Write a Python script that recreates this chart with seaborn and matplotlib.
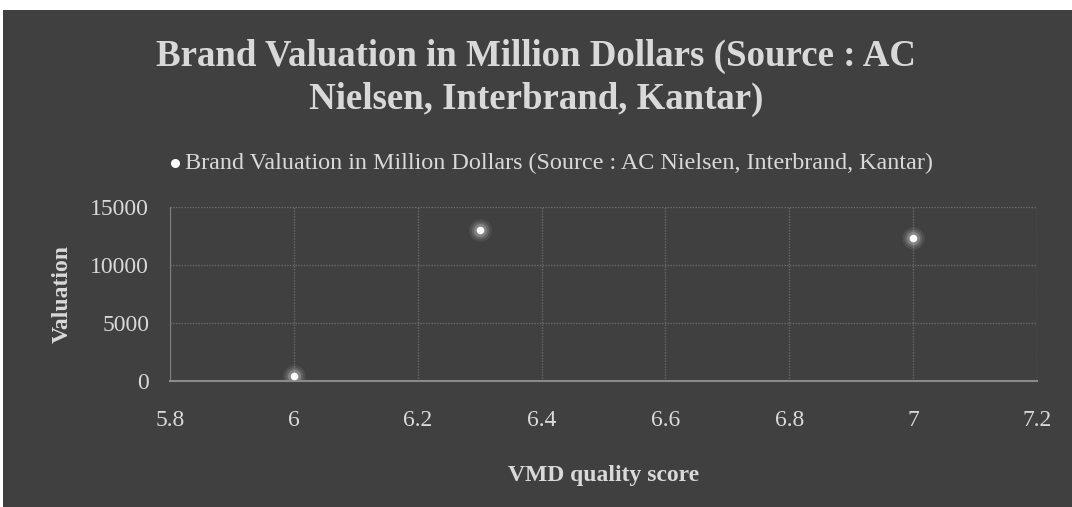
import matplotlib
matplotlib.use("Agg")
import matplotlib.pyplot as plt
import seaborn as sns
import pandas as pd

# Data
vmdScore = [6.0, 6.3, 7.0]
valuation = [400, 13000, 12300]

seriesName = "Brand Valuation in Million Dollars (Source : AC Nielsen, Interbrand, Kantar)"
titleText = "Brand Valuation in Million Dollars (Source : AC\nNielsen, Interbrand, Kantar)"

df = pd.DataFrame({"VMD quality score": vmdScore, "Valuation": valuation})

bg = "#404040"
textCol = "#d9d9d9"

sns.set_style("dark")
plt.rcParams['font.family'] = ['Liberation Serif', 'DejaVu Serif']

fig = plt.figure(figsize=(10.72, 5.07), dpi=100, facecolor="white")
# dark chart area with thin white margin top/left
bgAx = fig.add_axes([0.003, 0, 0.997, 0.98])
bgAx.set_facecolor(bg)
bgAx.set_xticks([])
bgAx.set_yticks([])
for s in bgAx.spines.values():
    s.set_visible(False)

ax = fig.add_axes([170 / 1072, 1 - 381 / 507, (1037 - 170) / 1072, (381 - 207) / 507])
ax.set_facecolor(bg)

# glow around points
for size, alpha in [(260, 0.08), (160, 0.12), (90, 0.2)]:
    sns.scatterplot(data=df, x="VMD quality score", y="Valuation", ax=ax,
                    s=size, color="white", alpha=alpha, linewidth=0, legend=False)
sns.scatterplot(data=df, x="VMD quality score", y="Valuation", ax=ax,
                s=30, color="white", linewidth=0, legend=False, zorder=5)

ax.set_xlim(5.8, 7.2)
ax.set_ylim(0, 15000)
ax.set_xticks([5.8, 6, 6.2, 6.4, 6.6, 6.8, 7, 7.2])
ax.set_xticklabels(["5.8", "6", "6.2", "6.4", "6.6", "6.8", "7", "7.2"])
ax.set_yticks([0, 5000, 10000, 15000])
ax.grid(True, color="#6a6a6a", linestyle=(0, (1, 1)), linewidth=1)
ax.tick_params(colors=textCol, labelsize=17, length=0)
ax.tick_params(axis="x", pad=21)
ax.tick_params(axis="y", pad=15)
for lab in ax.get_xticklabels() + ax.get_yticklabels():
    lab.set_color(textCol)

for k in ["top", "right"]:
    ax.spines[k].set_visible(False)
ax.spines["left"].set_color("#7f7f7f")
ax.spines["bottom"].set_color("#8a8a8a")
ax.spines["bottom"].set_linewidth(1.5)

ax.set_xlabel("VMD quality score", color=textCol, fontsize=17, fontweight="bold", labelpad=24)
ax.set_ylabel("Valuation", color=textCol, fontsize=17, fontweight="bold", labelpad=13)

fig.text(0.5, 1 - 78 / 507, titleText, ha="center", va="center", color=textCol,
         fontsize=26.6, fontweight="bold", linespacing=1.27)

# legend
ax.scatter([], [], s=30, color="white", label=seriesName)
leg = ax.legend(loc="center", bbox_to_anchor=(0.437, 1.25), frameon=False,
                fontsize=17.4, handletextpad=0.0, handlelength=0.8, borderaxespad=0)
for t in leg.get_texts():
    t.set_color(textCol)

fig.savefig("out.png", dpi=100, facecolor="white")
